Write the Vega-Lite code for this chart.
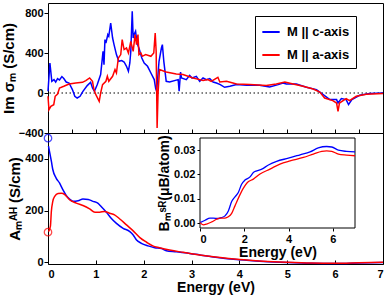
{
  "$schema": "https://vega.github.io/schema/vega-lite/v6.json",
  "padding": {"left": 0, "top": 2, "right": 3, "bottom": 1},
  "background": "white",
  "spacing": 0,
  "bounds": "flush",
  "config": {
    "font": "Liberation Sans",
    "view": {"stroke": "black", "strokeWidth": 1},
    "axis": {"labelFont": "Liberation Sans", "titleFont": "Liberation Sans", "labelFontWeight": "bold", "titleFontWeight": "bold", "labelFontSize": 11, "titleFontSize": 14, "labelColor": "black", "titleColor": "black", "tickColor": "black", "domain": false, "grid": false, "tickSize": 4},
    "legend": {"labelFont": "Liberation Sans", "labelFontWeight": "bold", "labelFontSize": 13, "labelColor": "black"}
  },
  "resolve": {"scale": {"color": "independent"}},
  "datasets": {
    "top": [
      {"E":0,"v":17,"s":"M || c-axis"},{"E":0.04,"v":300,"s":"M || c-axis"},{"E":0.08,"v":117,"s":"M || c-axis"},{"E":0.125,"v":134,"s":"M || c-axis"},{"E":0.16,"v":110,"s":"M || c-axis"},{"E":0.2,"v":144,"s":"M || c-axis"},{"E":0.24,"v":130,"s":"M || c-axis"},{"E":0.29,"v":164,"s":"M || c-axis"},{"E":0.33,"v":144,"s":"M || c-axis"},{"E":0.38,"v":110,"s":"M || c-axis"},{"E":0.44,"v":100,"s":"M || c-axis"},{"E":0.51,"v":34,"s":"M || c-axis"},{"E":0.56,"v":-33,"s":"M || c-axis"},{"E":0.61,"v":-50,"s":"M || c-axis"},{"E":0.67,"v":-33,"s":"M || c-axis"},{"E":0.73,"v":17,"s":"M || c-axis"},{"E":0.82,"v":74,"s":"M || c-axis"},{"E":0.89,"v":107,"s":"M || c-axis"},{"E":0.93,"v":50,"s":"M || c-axis"},{"E":0.97,"v":17,"s":"M || c-axis"},{"E":1.03,"v":84,"s":"M || c-axis"},{"E":1.1,"v":184,"s":"M || c-axis"},{"E":1.15,"v":417,"s":"M || c-axis"},{"E":1.17,"v":284,"s":"M || c-axis"},{"E":1.19,"v":534,"s":"M || c-axis"},{"E":1.21,"v":500,"s":"M || c-axis"},{"E":1.25,"v":584,"s":"M || c-axis"},{"E":1.27,"v":567,"s":"M || c-axis"},{"E":1.31,"v":700,"s":"M || c-axis"},{"E":1.35,"v":550,"s":"M || c-axis"},{"E":1.38,"v":484,"s":"M || c-axis"},{"E":1.43,"v":384,"s":"M || c-axis"},{"E":1.48,"v":317,"s":"M || c-axis"},{"E":1.54,"v":324,"s":"M || c-axis"},{"E":1.59,"v":310,"s":"M || c-axis"},{"E":1.64,"v":267,"s":"M || c-axis"},{"E":1.68,"v":217,"s":"M || c-axis"},{"E":1.71,"v":300,"s":"M || c-axis"},{"E":1.73,"v":417,"s":"M || c-axis"},{"E":1.76,"v":817,"s":"M || c-axis"},{"E":1.78,"v":550,"s":"M || c-axis"},{"E":1.8,"v":584,"s":"M || c-axis"},{"E":1.83,"v":617,"s":"M || c-axis"},{"E":1.86,"v":500,"s":"M || c-axis"},{"E":1.9,"v":450,"s":"M || c-axis"},{"E":1.96,"v":350,"s":"M || c-axis"},{"E":2.01,"v":300,"s":"M || c-axis"},{"E":2.08,"v":267,"s":"M || c-axis"},{"E":2.15,"v":200,"s":"M || c-axis"},{"E":2.22,"v":134,"s":"M || c-axis"},{"E":2.25,"v":44,"s":"M || c-axis"},{"E":2.27,"v":17,"s":"M || c-axis"},{"E":2.32,"v":317,"s":"M || c-axis"},{"E":2.37,"v":450,"s":"M || c-axis"},{"E":2.39,"v":484,"s":"M || c-axis"},{"E":2.42,"v":317,"s":"M || c-axis"},{"E":2.47,"v":117,"s":"M || c-axis"},{"E":2.54,"v":110,"s":"M || c-axis"},{"E":2.72,"v":134,"s":"M || c-axis"},{"E":2.74,"v":17,"s":"M || c-axis"},{"E":2.77,"v":210,"s":"M || c-axis"},{"E":2.79,"v":150,"s":"M || c-axis"},{"E":2.89,"v":134,"s":"M || c-axis"},{"E":2.96,"v":177,"s":"M || c-axis"},{"E":3.01,"v":150,"s":"M || c-axis"},{"E":3.1,"v":167,"s":"M || c-axis"},{"E":3.17,"v":117,"s":"M || c-axis"},{"E":3.24,"v":150,"s":"M || c-axis"},{"E":3.31,"v":134,"s":"M || c-axis"},{"E":3.38,"v":144,"s":"M || c-axis"},{"E":3.45,"v":110,"s":"M || c-axis"},{"E":3.52,"v":100,"s":"M || c-axis"},{"E":3.6,"v":84,"s":"M || c-axis"},{"E":3.69,"v":57,"s":"M || c-axis"},{"E":3.8,"v":67,"s":"M || c-axis"},{"E":3.94,"v":84,"s":"M || c-axis"},{"E":4.15,"v":77,"s":"M || c-axis"},{"E":4.42,"v":77,"s":"M || c-axis"},{"E":4.63,"v":60,"s":"M || c-axis"},{"E":4.81,"v":84,"s":"M || c-axis"},{"E":4.91,"v":100,"s":"M || c-axis"},{"E":4.98,"v":90,"s":"M || c-axis"},{"E":5.19,"v":90,"s":"M || c-axis"},{"E":5.4,"v":57,"s":"M || c-axis"},{"E":5.61,"v":34,"s":"M || c-axis"},{"E":5.75,"v":-16,"s":"M || c-axis"},{"E":5.89,"v":-66,"s":"M || c-axis"},{"E":6.03,"v":-66,"s":"M || c-axis"},{"E":6.06,"v":-100,"s":"M || c-axis"},{"E":6.13,"v":-56,"s":"M || c-axis"},{"E":6.23,"v":-66,"s":"M || c-axis"},{"E":6.28,"v":-116,"s":"M || c-axis"},{"E":6.35,"v":-66,"s":"M || c-axis"},{"E":6.51,"v":-23,"s":"M || c-axis"},{"E":6.72,"v":-6,"s":"M || c-axis"},{"E":7,"v":0,"s":"M || c-axis"},
      {"E":0,"v":-33,"s":"M || a-axis"},{"E":0.02,"v":-167,"s":"M || a-axis"},{"E":0.06,"v":-133,"s":"M || a-axis"},{"E":0.12,"v":-117,"s":"M || a-axis"},{"E":0.15,"v":-33,"s":"M || a-axis"},{"E":0.2,"v":-10,"s":"M || a-axis"},{"E":0.24,"v":50,"s":"M || a-axis"},{"E":0.33,"v":67,"s":"M || a-axis"},{"E":0.44,"v":90,"s":"M || a-axis"},{"E":0.58,"v":100,"s":"M || a-axis"},{"E":0.72,"v":107,"s":"M || a-axis"},{"E":0.79,"v":124,"s":"M || a-axis"},{"E":0.87,"v":150,"s":"M || a-axis"},{"E":0.93,"v":117,"s":"M || a-axis"},{"E":0.96,"v":34,"s":"M || a-axis"},{"E":1,"v":-17,"s":"M || a-axis"},{"E":1.07,"v":-83,"s":"M || a-axis"},{"E":1.1,"v":0,"s":"M || a-axis"},{"E":1.14,"v":84,"s":"M || a-axis"},{"E":1.21,"v":117,"s":"M || a-axis"},{"E":1.24,"v":167,"s":"M || a-axis"},{"E":1.27,"v":117,"s":"M || a-axis"},{"E":1.35,"v":167,"s":"M || a-axis"},{"E":1.4,"v":234,"s":"M || a-axis"},{"E":1.43,"v":200,"s":"M || a-axis"},{"E":1.47,"v":350,"s":"M || a-axis"},{"E":1.52,"v":384,"s":"M || a-axis"},{"E":1.55,"v":534,"s":"M || a-axis"},{"E":1.59,"v":434,"s":"M || a-axis"},{"E":1.64,"v":450,"s":"M || a-axis"},{"E":1.68,"v":400,"s":"M || a-axis"},{"E":1.73,"v":517,"s":"M || a-axis"},{"E":1.78,"v":417,"s":"M || a-axis"},{"E":1.82,"v":584,"s":"M || a-axis"},{"E":1.85,"v":484,"s":"M || a-axis"},{"E":1.88,"v":584,"s":"M || a-axis"},{"E":1.9,"v":384,"s":"M || a-axis"},{"E":1.94,"v":400,"s":"M || a-axis"},{"E":1.97,"v":367,"s":"M || a-axis"},{"E":2.04,"v":384,"s":"M || a-axis"},{"E":2.15,"v":367,"s":"M || a-axis"},{"E":2.21,"v":400,"s":"M || a-axis"},{"E":2.24,"v":600,"s":"M || a-axis"},{"E":2.26,"v":417,"s":"M || a-axis"},{"E":2.28,"v":-350,"s":"M || a-axis"},{"E":2.3,"v":0,"s":"M || a-axis"},{"E":2.33,"v":234,"s":"M || a-axis"},{"E":2.47,"v":210,"s":"M || a-axis"},{"E":2.68,"v":190,"s":"M || a-axis"},{"E":2.82,"v":184,"s":"M || a-axis"},{"E":3.03,"v":150,"s":"M || a-axis"},{"E":3.17,"v":134,"s":"M || a-axis"},{"E":3.24,"v":124,"s":"M || a-axis"},{"E":3.34,"v":134,"s":"M || a-axis"},{"E":3.41,"v":117,"s":"M || a-axis"},{"E":3.55,"v":157,"s":"M || a-axis"},{"E":3.59,"v":110,"s":"M || a-axis"},{"E":3.73,"v":117,"s":"M || a-axis"},{"E":3.94,"v":90,"s":"M || a-axis"},{"E":4.22,"v":84,"s":"M || a-axis"},{"E":4.56,"v":74,"s":"M || a-axis"},{"E":4.77,"v":90,"s":"M || a-axis"},{"E":4.95,"v":110,"s":"M || a-axis"},{"E":5.12,"v":90,"s":"M || a-axis"},{"E":5.33,"v":67,"s":"M || a-axis"},{"E":5.54,"v":40,"s":"M || a-axis"},{"E":5.68,"v":10,"s":"M || a-axis"},{"E":5.78,"v":-50,"s":"M || a-axis"},{"E":5.95,"v":-76,"s":"M || a-axis"},{"E":6.03,"v":-100,"s":"M || a-axis"},{"E":6.06,"v":-183,"s":"M || a-axis"},{"E":6.09,"v":-100,"s":"M || a-axis"},{"E":6.23,"v":-56,"s":"M || a-axis"},{"E":6.3,"v":-76,"s":"M || a-axis"},{"E":6.44,"v":-33,"s":"M || a-axis"},{"E":6.65,"v":-13,"s":"M || a-axis"},{"E":7,"v":-6,"s":"M || a-axis"}
    ],
    "bottom": [
      {"E":0.01,"v":449,"s":"M || c-axis"},{"E":0.03,"v":430,"s":"M || c-axis"},{"E":0.07,"v":391,"s":"M || c-axis"},{"E":0.1,"v":359,"s":"M || c-axis"},{"E":0.17,"v":326,"s":"M || c-axis"},{"E":0.24,"v":307,"s":"M || c-axis"},{"E":0.31,"v":281,"s":"M || c-axis"},{"E":0.38,"v":259,"s":"M || c-axis"},{"E":0.45,"v":245,"s":"M || c-axis"},{"E":0.52,"v":236,"s":"M || c-axis"},{"E":0.63,"v":238,"s":"M || c-axis"},{"E":0.73,"v":245,"s":"M || c-axis"},{"E":0.84,"v":243,"s":"M || c-axis"},{"E":0.94,"v":236,"s":"M || c-axis"},{"E":1.04,"v":229,"s":"M || c-axis"},{"E":1.11,"v":216,"s":"M || c-axis"},{"E":1.22,"v":194,"s":"M || c-axis"},{"E":1.32,"v":171,"s":"M || c-axis"},{"E":1.43,"v":151,"s":"M || c-axis"},{"E":1.57,"v":132,"s":"M || c-axis"},{"E":1.71,"v":119,"s":"M || c-axis"},{"E":1.78,"v":106,"s":"M || c-axis"},{"E":1.85,"v":87,"s":"M || c-axis"},{"E":1.95,"v":74,"s":"M || c-axis"},{"E":2.09,"v":64,"s":"M || c-axis"},{"E":2.23,"v":57,"s":"M || c-axis"},{"E":2.37,"v":54,"s":"M || c-axis"},{"E":2.47,"v":45,"s":"M || c-axis"},{"E":2.68,"v":41,"s":"M || c-axis"},{"E":2.96,"v":35,"s":"M || c-axis"},{"E":3.17,"v":29,"s":"M || c-axis"},{"E":3.5,"v":20,"s":"M || c-axis"},{"E":4,"v":10,"s":"M || c-axis"},{"E":4.5,"v":4,"s":"M || c-axis"},{"E":5,"v":0,"s":"M || c-axis"},{"E":5.5,"v":-3,"s":"M || c-axis"},{"E":6,"v":-4,"s":"M || c-axis"},{"E":6.5,"v":-2,"s":"M || c-axis"},{"E":7,"v":0,"s":"M || c-axis"},
      {"E":0.01,"v":119,"s":"M || a-axis"},{"E":0.05,"v":139,"s":"M || a-axis"},{"E":0.07,"v":197,"s":"M || a-axis"},{"E":0.1,"v":236,"s":"M || a-axis"},{"E":0.14,"v":255,"s":"M || a-axis"},{"E":0.21,"v":266,"s":"M || a-axis"},{"E":0.28,"v":267,"s":"M || a-axis"},{"E":0.35,"v":262,"s":"M || a-axis"},{"E":0.45,"v":242,"s":"M || a-axis"},{"E":0.59,"v":229,"s":"M || a-axis"},{"E":0.73,"v":220,"s":"M || a-axis"},{"E":0.87,"v":207,"s":"M || a-axis"},{"E":0.98,"v":194,"s":"M || a-axis"},{"E":1.08,"v":194,"s":"M || a-axis"},{"E":1.18,"v":197,"s":"M || a-axis"},{"E":1.29,"v":190,"s":"M || a-axis"},{"E":1.39,"v":184,"s":"M || a-axis"},{"E":1.5,"v":168,"s":"M || a-axis"},{"E":1.64,"v":145,"s":"M || a-axis"},{"E":1.78,"v":122,"s":"M || a-axis"},{"E":1.92,"v":96,"s":"M || a-axis"},{"E":2.06,"v":78,"s":"M || a-axis"},{"E":2.19,"v":64,"s":"M || a-axis"},{"E":2.33,"v":57,"s":"M || a-axis"},{"E":2.54,"v":48,"s":"M || a-axis"},{"E":2.82,"v":39,"s":"M || a-axis"},{"E":3.17,"v":29,"s":"M || a-axis"},{"E":3.5,"v":21,"s":"M || a-axis"},{"E":4,"v":11,"s":"M || a-axis"},{"E":4.5,"v":5,"s":"M || a-axis"},{"E":5,"v":1,"s":"M || a-axis"},{"E":5.5,"v":-2,"s":"M || a-axis"},{"E":6,"v":-3,"s":"M || a-axis"},{"E":6.5,"v":-1,"s":"M || a-axis"},{"E":7,"v":1,"s":"M || a-axis"}
    ],
    "markers": [
      {"E":0,"v":480,"s":"M || c-axis"},{"E":0,"v":117,"s":"M || a-axis"}
    ],
    "inset": [
      {"E":0,"v":0.0002,"s":"M || c-axis"},{"E":0.23,"v":0.0012,"s":"M || c-axis"},{"E":0.45,"v":0.0021,"s":"M || c-axis"},{"E":0.6,"v":0.0021,"s":"M || c-axis"},{"E":0.83,"v":0.0019,"s":"M || c-axis"},{"E":0.98,"v":0.0023,"s":"M || c-axis"},{"E":1.13,"v":0.003,"s":"M || c-axis"},{"E":1.28,"v":0.005,"s":"M || c-axis"},{"E":1.43,"v":0.0089,"s":"M || c-axis"},{"E":1.58,"v":0.0108,"s":"M || c-axis"},{"E":1.73,"v":0.0126,"s":"M || c-axis"},{"E":1.88,"v":0.016,"s":"M || c-axis"},{"E":2.03,"v":0.0177,"s":"M || c-axis"},{"E":2.26,"v":0.019,"s":"M || c-axis"},{"E":2.41,"v":0.0208,"s":"M || c-axis"},{"E":2.56,"v":0.0215,"s":"M || c-axis"},{"E":2.79,"v":0.0222,"s":"M || c-axis"},{"E":3.09,"v":0.0239,"s":"M || c-axis"},{"E":3.46,"v":0.0254,"s":"M || c-axis"},{"E":3.99,"v":0.0267,"s":"M || c-axis"},{"E":4.52,"v":0.0281,"s":"M || c-axis"},{"E":4.97,"v":0.0293,"s":"M || c-axis"},{"E":5.34,"v":0.0309,"s":"M || c-axis"},{"E":5.72,"v":0.0315,"s":"M || c-axis"},{"E":5.95,"v":0.0313,"s":"M || c-axis"},{"E":6.25,"v":0.03,"s":"M || c-axis"},{"E":6.62,"v":0.0295,"s":"M || c-axis"},{"E":7,"v":0.0293,"s":"M || c-axis"},
      {"E":0,"v":0.0002,"s":"M || a-axis"},{"E":0.15,"v":-0.0007,"s":"M || a-axis"},{"E":0.3,"v":-0.0004,"s":"M || a-axis"},{"E":0.53,"v":0.0005,"s":"M || a-axis"},{"E":0.75,"v":0.0016,"s":"M || a-axis"},{"E":0.9,"v":0.0021,"s":"M || a-axis"},{"E":1.13,"v":0.0021,"s":"M || a-axis"},{"E":1.28,"v":0.0026,"s":"M || a-axis"},{"E":1.43,"v":0.004,"s":"M || a-axis"},{"E":1.58,"v":0.0071,"s":"M || a-axis"},{"E":1.78,"v":0.0112,"s":"M || a-axis"},{"E":1.96,"v":0.0144,"s":"M || a-axis"},{"E":2.14,"v":0.0167,"s":"M || a-axis"},{"E":2.41,"v":0.0181,"s":"M || a-axis"},{"E":2.71,"v":0.0202,"s":"M || a-axis"},{"E":3.16,"v":0.0222,"s":"M || a-axis"},{"E":3.61,"v":0.0243,"s":"M || a-axis"},{"E":4.07,"v":0.0256,"s":"M || a-axis"},{"E":4.67,"v":0.027,"s":"M || a-axis"},{"E":5.12,"v":0.0284,"s":"M || a-axis"},{"E":5.5,"v":0.0295,"s":"M || a-axis"},{"E":5.72,"v":0.0297,"s":"M || a-axis"},{"E":5.95,"v":0.0295,"s":"M || a-axis"},{"E":6.25,"v":0.0284,"s":"M || a-axis"},{"E":6.62,"v":0.028,"s":"M || a-axis"},{"E":7,"v":0.0277,"s":"M || a-axis"}
    ]
  },
  "vconcat": [
    {
      "width": 335,
      "height": 130,
      "layer": [
        {
          "mark": {"type": "rule", "color": "black", "strokeWidth": 1, "strokeDash": [1.5, 2.5]},
          "data": {"values": [{"z": 0}]},
          "encoding": {"y": {"field": "z", "type": "quantitative"}}
        },
        {
          "data": {"name": "top"},
          "mark": {"type": "line", "strokeWidth": 1.5},
          "encoding": {
            "x": {"field": "E", "type": "quantitative", "scale": {"domain": [0, 7], "nice": false},
                  "axis": {"values": [0,0.5,1,1.5,2,2.5,3,3.5,4,4.5,5,5.5,6,6.5,7], "labels": false, "title": null, "tickSize": -4}},
            "y": {"field": "v", "type": "quantitative", "scale": {"domain": [-400, 900], "nice": false, "zero": false},
                  "axis": {"values": [-400,-300,-200,-100,0,100,200,300,400,500,600,700,800], "labelExpr": "datum.value % 200 === 0 ? datum.label : ''", "title": "Im σₘ (S/cm)", "titleFontSize": 15, "titlePadding": 2, "labelPadding": 1}},
            "color": {"field": "s", "type": "nominal", "scale": {"domain": ["M || c-axis", "M || a-axis"], "range": ["#0000ff", "#ff0000"]},
                      "legend": {"title": null, "orient": "none", "legendX": 207, "legendY": 13, "strokeColor": "black", "fillColor": "white", "padding": 6, "symbolType": "stroke", "symbolStrokeWidth": 2, "symbolSize": 300, "rowPadding": 6, "labelOffset": 6}}
          }
        }
      ]
    },
    {
      "width": 335,
      "height": 131,
      "resolve": {"scale": {"x": "independent", "y": "independent"}},
      "layer": [
        {
          "layer": [
            {
              "data": {"name": "bottom"},
              "mark": {"type": "line", "strokeWidth": 1.5, "interpolate": "monotone"},
              "encoding": {
                "x": {"field": "E", "type": "quantitative", "scale": {"domain": [0, 7], "nice": false},
                      "axis": {"values": [0,0.5,1,1.5,2,2.5,3,3.5,4,4.5,5,5.5,6,6.5,7], "labelExpr": "datum.value % 1 === 0 ? datum.label : ''", "title": "Energy (eV)", "tickSize": -4, "labelPadding": 8, "titlePadding": 1}},
                "y": {"field": "v", "type": "quantitative", "scale": {"domain": [-6, 500], "nice": false, "zero": false},
                      "axis": {"values": [0,50,100,150,200,250,300,350,400], "labelExpr": "datum.value % 100 === 0 ? datum.label : ''", "title": "Aₘᴬᴴ (S/cm)", "titleFontSize": 15, "titlePadding": 2, "labelPadding": 1}},
                "color": {"field": "s", "type": "nominal", "scale": {"domain": ["M || c-axis", "M || a-axis"], "range": ["#0000ff", "#ff0000"]}, "legend": null}
              }
            },
            {
              "data": {"name": "markers"},
              "mark": {"type": "point", "filled": false, "size": 55, "strokeWidth": 1.3},
              "encoding": {
                "x": {"field": "E", "type": "quantitative"},
                "y": {"field": "v", "type": "quantitative"},
                "color": {"field": "s", "type": "nominal", "legend": null}
              }
            }
          ]
        },
        {
          "layer": [
            {
              "data": {"values": [{}]},
              "mark": {"type": "rect", "fill": "white", "stroke": "black", "strokeWidth": 1},
              "encoding": {
                "x": {"datum": 0, "type": "quantitative", "scale": {"domain": [0, 7], "range": [152, 307], "nice": false, "zero": false},
                      "axis": {"orient": "bottom", "offset": -36, "values": [0, 2, 4, 6], "title": "Energy (eV)", "tickSize": 3, "labelPadding": 2, "titlePadding": 1}},
                "x2": {"datum": 7},
                "y": {"datum": -0.002, "type": "quantitative", "scale": {"domain": [-0.002, 0.035], "range": [95, 5], "nice": false, "zero": false},
                      "axis": {"orient": "left", "offset": -152, "values": [0, 0.01, 0.02, 0.03], "title": "Bₘˢᴿ(μB/atom)", "tickSize": 3, "labelPadding": 2, "titlePadding": 2}},
                "y2": {"datum": 0.035}
              }
            },
            {
              "data": {"name": "inset"},
              "mark": {"type": "line", "strokeWidth": 1.3, "interpolate": "monotone"},
              "encoding": {
                "x": {"field": "E", "type": "quantitative",
                      "axis": {"orient": "bottom", "offset": -36, "values": [0, 2, 4, 6], "title": "Energy (eV)", "tickSize": 3, "labelPadding": 2, "titlePadding": 1}},
                "y": {"field": "v", "type": "quantitative",
                      "axis": {"orient": "left", "offset": -152, "values": [0, 0.01, 0.02, 0.03], "title": "Bₘˢᴿ(μB/atom)", "tickSize": 3, "labelPadding": 2, "titlePadding": 2}},
                "color": {"field": "s", "type": "nominal", "legend": null}
              }
            }
          ]
        }
      ]
    }
  ]
}
